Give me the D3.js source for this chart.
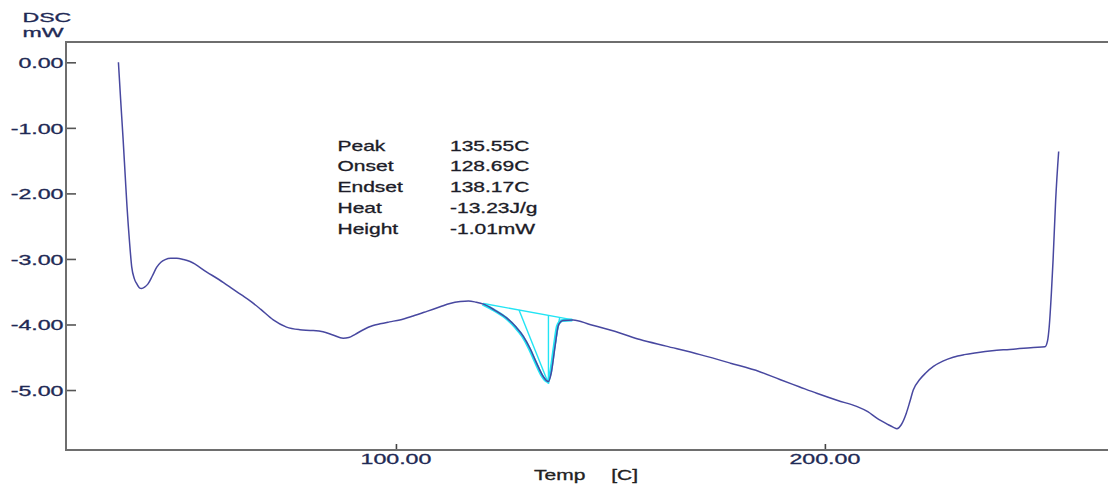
<!DOCTYPE html>
<html>
<head>
<meta charset="utf-8">
<script src="https://cdn.jsdelivr.net/npm/d3@7"></script>
<style>
  html, body { margin: 0; padding: 0; background: #fff; }
  svg { display: block; }
  text { font-family: "Liberation Sans", Arial, sans-serif; }
</style>
</head>
<body>
<svg id="chart" width="1108" height="491"></svg>
<script>
// DSC heating scan: temperature (C) and heat flow (mW)
const temps = [35.3, 35.8, 36.4, 36.9, 37.3, 37.9, 38.4, 39.0, 39.6, 40.2, 40.7, 41.4, 42.2, 43.2, 44.2, 45.2, 46.2, 47.5, 48.9, 50.5,
  52.0, 55.9, 59.8, 62.0, 64.0, 66.0, 68.5, 71.4, 74.5, 77.6, 80.0, 83.0, 85.3, 87.7, 89.0, 90.5, 92.4, 94.5, 96.3, 98.5, 100.9,
  104.0, 107.2, 110.3, 112.6, 115.0, 116.9, 118.7, 120.4, 123.0, 125.8, 128.0, 129.7, 131.3, 132.8, 134.3, 135.0, 135.55, 136.2, 137.1, 137.8,
  138.4, 139.0, 141.3, 145.2, 152.2, 156.9, 163.0, 170.9, 178.0, 184.8, 189.5, 194.0, 198.1, 203.0, 207.4, 210.0, 212.1, 214.5, 216.0, 216.8,
  217.8, 219.0, 219.8, 220.6, 222.1, 223.5, 225.3, 227.5, 229.9, 232.5, 235.4, 239.0, 243.1, 248.6, 251.3, 251.9, 252.3, 252.8, 253.2, 253.8, 254.5];
const heatFlow = [0.00, -0.55, -1.18, -1.75, -2.20, -2.75, -3.12, -3.30, -3.38, -3.44, -3.45, -3.43, -3.38, -3.26, -3.13, -3.05, -3.01, -2.99, -2.99, -3.01,
  -3.04, -3.20, -3.36, -3.46, -3.55, -3.64, -3.77, -3.93, -4.04, -4.08, -4.09, -4.11, -4.16, -4.21, -4.20, -4.15, -4.08, -4.02, -3.99, -3.96, -3.93,
  -3.87, -3.80, -3.73, -3.68, -3.65, -3.64, -3.66, -3.69, -3.78, -3.90, -4.04, -4.18, -4.37, -4.59, -4.79, -4.85, -4.87, -4.74, -4.33, -4.03,
  -3.96, -3.94, -3.93, -4.00, -4.13, -4.23, -4.33, -4.46, -4.59, -4.72, -4.84, -4.95, -5.05, -5.16, -5.25, -5.33, -5.43, -5.52, -5.57, -5.59,
  -5.53, -5.35, -5.18, -5.00, -4.84, -4.74, -4.64, -4.56, -4.50, -4.46, -4.43, -4.40, -4.38, -4.35, -4.34, -4.25, -4.03, -3.52, -3.01, -2.10, -1.36];

// Peak analysis results
const peakLabels = ["Peak", "Onset", "Endset", "Heat", "Height"];
const peakValues = ["135.55C", "128.69C", "138.17C", "-13.23J/g", "-1.01mW"];
const peakT = 135.55, onsetT = 128.69, endsetT = 138.17, peakHeight = -1.01;
// Integration baseline end points [temp, mW]
const baselineStart = [120.4, -3.68];
const baselineEnd = [141.3, -3.93];

// Axis ticks
const xMajorTicks = [100, 200];
const xTickLabels = ["100.00", "200.00"];
const xMinorTicks = [40, 60, 80, 120, 140, 160, 180, 220, 240, 260];
const yMajorTicks = [0, -1, -2, -3, -4, -5];
const yTickLabels = ["0.00", "-1.00", "-2.00", "-3.00", "-4.00", "-5.00"];
const yMinorTicks = [0.2, -0.2, -0.4, -0.6, -0.8, -1.2, -1.4, -1.6, -1.8, -2.2, -2.4, -2.6, -2.8, -3.2, -3.4, -3.6, -3.8,
  -4.2, -4.4, -4.6, -4.8, -5.2, -5.4, -5.6, -5.8];

const svg = d3.select("#chart");
const plotL = 66, plotR = 1108, plotT = 42, plotB = 450;
const x = d3.scaleLinear().domain([23.08, 266.0]).range([plotL, plotR]);
const y = d3.scaleLinear().domain([0.31, -5.915]).range([plotT, plotB]);

const TEXT_SX = 1.6;   // wide instrument-software lettering
function wideText(g, px, py, str, opts) {
  const fill = opts.fill || "#1f2a55";
  return g.append("text")
    .attr("transform", `translate(${px},${py}) scale(${opts.sx || TEXT_SX},1)`)
    .attr("font-size", opts.size || 14.5)
    .attr("fill", fill)
    .attr("stroke", fill)
    .attr("stroke-width", 0.3)
    .attr("text-anchor", opts.anchor || "start")
    .text(str);
}

// Top rule
svg.append("line").attr("x1", plotL).attr("x2", plotR).attr("y1", plotT).attr("y2", plotT)
  .attr("stroke", "#6e6e6e").attr("stroke-width", 2);

// Y axis (ticks drawn inward)
const yAxisMajor = d3.axisRight(y).tickValues(yMajorTicks).tickSize(10).tickFormat("");
const yAxisMinor = d3.axisRight(y).tickValues(yMinorTicks).tickSize(5).tickFormat("");
const gy = svg.append("g").attr("transform", `translate(${plotL},0)`);
gy.call(yAxisMinor);
gy.call(yAxisMajor);
gy.selectAll(".domain").remove();
gy.selectAll("line").attr("stroke", "#555").attr("stroke-width", 1.6);
svg.append("line").attr("x1", plotL).attr("x2", plotL).attr("y1", plotT - 1).attr("y2", plotB + 1)
  .attr("stroke", "#6e6e6e").attr("stroke-width", 2);

// X axis (ticks drawn inward)
const xAxisMajor = d3.axisTop(x).tickValues(xMajorTicks).tickSize(6).tickFormat("");
const xAxisMinor = d3.axisTop(x).tickValues(xMinorTicks).tickSize(3.5).tickFormat("");
const gx = svg.append("g").attr("transform", `translate(0,${plotB})`);
gx.call(xAxisMinor);
gx.call(xAxisMajor);
gx.selectAll(".domain").remove();
gx.selectAll("line").attr("stroke", "#444").attr("stroke-width", 1.6);
svg.append("line").attr("x1", plotL - 1).attr("x2", plotR).attr("y1", plotB).attr("y2", plotB)
  .attr("stroke", "#6e6e6e").attr("stroke-width", 2);

// Tick labels
const labels = svg.append("g");
yMajorTicks.forEach((v, i) => wideText(labels, 63.5, y(v) + 5.8, yTickLabels[i], { anchor: "end" }));
xMajorTicks.forEach((v, i) => wideText(labels, x(v), 464, xTickLabels[i], { anchor: "middle" }));

// Y axis title, two stacked lines
wideText(labels, 22.5, 22.3, "DSC", { size: 13, sx: 1.78 });
wideText(labels, 22.5, 37, "mW", { size: 13, sx: 1.78 });

// X axis title
const xTitle = wideText(labels, 534, 480, "", { size: 14, sx: 1.5, fill: "#222" });
xTitle.append("tspan").attr("x", 0).text("Temp");
xTitle.append("tspan").attr("x", 51.5).text("[C]");

// Curve data
const data = temps.map((t, i) => ({ t, v: heatFlow[i] }));
const line = d3.line().x(d => x(d.t)).y(d => y(d.v)).curve(d3.curveMonotoneX);

// Peak integration graphics (cyan)
const cyan = "#22e4f4";
const peakSeg = data.filter(d => d.t >= baselineStart[0] && d.t <= baselineEnd[0]);
const baseAt = t => baselineStart[1] + (t - baselineStart[0]) / (baselineEnd[0] - baselineStart[0]) * (baselineEnd[1] - baselineStart[1]);
const peakBottom = baseAt(peakT) + peakHeight - 0.03;
const pk = svg.append("g").attr("stroke", cyan).attr("fill", "none").attr("stroke-width", 1.4);
pk.append("path").datum(peakSeg).attr("d", line).attr("stroke-width", 3).attr("transform", "translate(-0.8,0)");
pk.append("line").attr("x1", x(baselineStart[0])).attr("y1", y(baselineStart[1]))
  .attr("x2", x(baselineEnd[0])).attr("y2", y(baselineEnd[1]));
pk.append("line").attr("x1", x(peakT)).attr("y1", y(baseAt(peakT)))
  .attr("x2", x(peakT)).attr("y2", y(peakBottom));
pk.append("line").attr("x1", x(onsetT)).attr("y1", y(baseAt(onsetT)))
  .attr("x2", x(peakT)).attr("y2", y(peakBottom));
pk.append("line").attr("x1", x(endsetT)).attr("y1", y(baseAt(endsetT)))
  .attr("x2", x(peakT)).attr("y2", y(peakBottom));

// Heat-flow curve
svg.append("path").datum(data)
  .attr("d", line)
  .attr("fill", "none")
  .attr("stroke", "#4848a0")
  .attr("stroke-width", 1.5)
  .attr("stroke-linejoin", "round");

// Peak report block
const rep = svg.append("g");
peakLabels.forEach((s, i) => {
  wideText(rep, 337.5, 150.5 + i * 20.8, s, { size: 14, sx: 1.5, fill: "#1c1c28" });
  wideText(rep, 450, 150.5 + i * 20.8, peakValues[i], { size: 14, sx: 1.5, fill: "#1c1c28" });
});
</script>
</body>
</html>
